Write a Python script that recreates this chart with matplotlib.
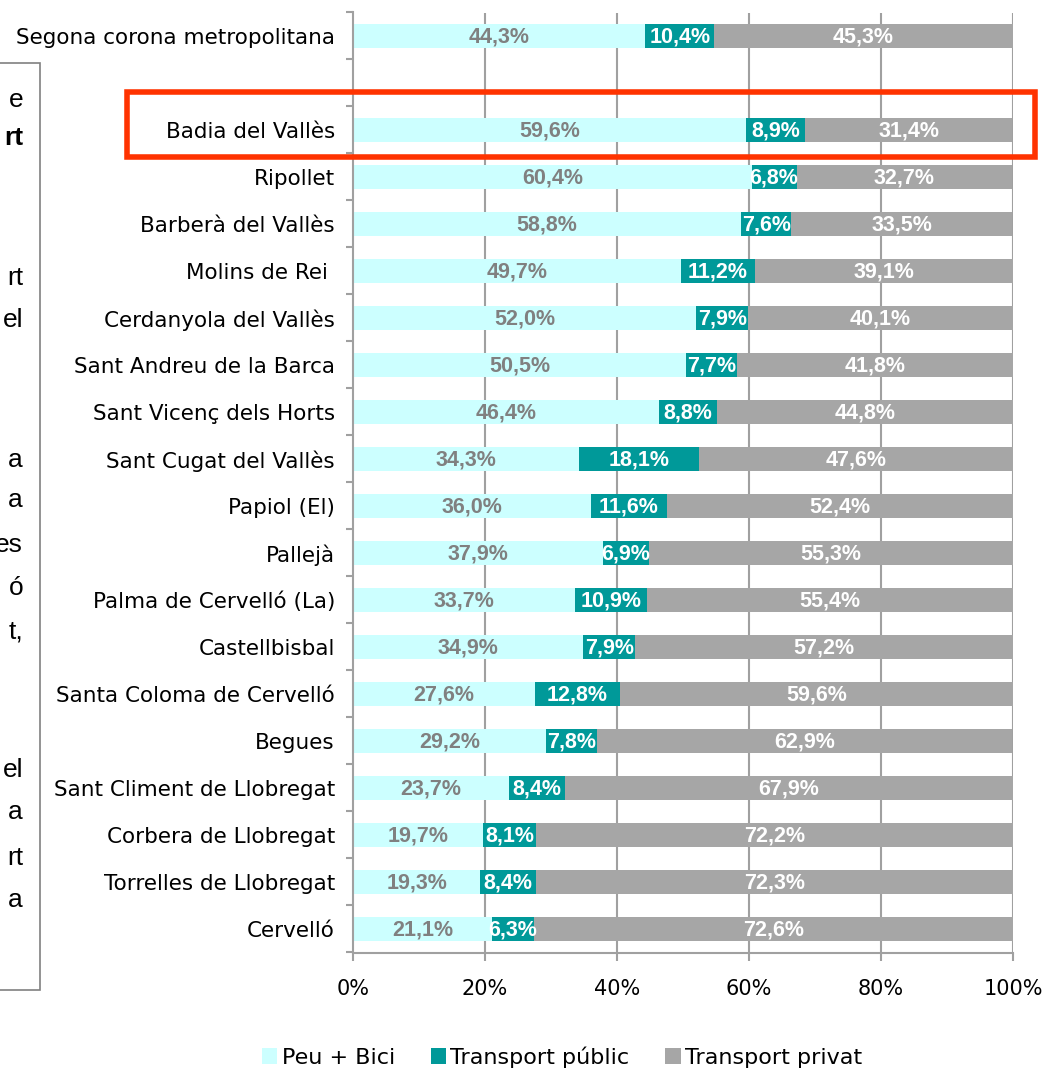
import matplotlib
matplotlib.use("Agg")
import matplotlib.pyplot as plt
from matplotlib.patches import Rectangle, Patch
import numpy as np

categories = ["Segona corona metropolitana", "", "Badia del Vallès", "Ripollet",
              "Barberà del Vallès", "Molins de Rei ", "Cerdanyola del Vallès",
              "Sant Andreu de la Barca", "Sant Vicenç dels Horts", "Sant Cugat del Vallès",
              "Papiol (El)", "Pallejà", "Palma de Cervelló (La)", "Castellbisbal",
              "Santa Coloma de Cervelló", "Begues", "Sant Climent de Llobregat",
              "Corbera de Llobregat", "Torrelles de Llobregat", "Cervelló"]
peu_bici = [44.3, None, 59.6, 60.4, 58.8, 49.7, 52.0, 50.5, 46.4, 34.3, 36.0, 37.9,
            33.7, 34.9, 27.6, 29.2, 23.7, 19.7, 19.3, 21.1]
transport_public = [10.4, None, 8.9, 6.8, 7.6, 11.2, 7.9, 7.7, 8.8, 18.1, 11.6, 6.9,
                    10.9, 7.9, 12.8, 7.8, 8.4, 8.1, 8.4, 6.3]
transport_privat = [45.3, None, 31.4, 32.7, 33.5, 39.1, 40.1, 41.8, 44.8, 47.6, 52.4,
                    55.3, 55.4, 57.2, 59.6, 62.9, 67.9, 72.2, 72.3, 72.6]
series_names = ["Peu + Bici", "Transport públic", "Transport privat"]
xtick_labels = ["0%", "20%", "40%", "60%", "80%", "100%"]
side_fragments = [("e", 100, False), ("rt", 138, True), ("rt", 278, False), ("el", 320, False),
                  ("a", 460, False), ("a", 500, False), ("es", 545, False), ("ó", 588, False),
                  ("t,", 632, False), ("el", 770, False), ("a", 812, False), ("rt", 858, False),
                  ("a", 900, False)]

colors = ["#CCFFFF", "#009999", "#A6A6A6"]
label_colors = ["#808080", "white", "white"]

W, H = 1048, 1069
fig = plt.figure(figsize=(W / 100, H / 100), dpi=100)
ax = fig.add_axes([353 / W, 1 - 952.5 / H, 660 / W, 940 / H])

n = len(categories)
y = np.arange(n)
grid_c = "#A0A0A0"
ax.set_axisbelow(True)
for xv in [20, 40, 60, 80, 100]:
    ax.axvline(xv, color=grid_c, lw=1.5, zorder=0)

label_font = dict(family=["Liberation Sans", "DejaVu Sans"], fontweight="bold", fontsize=15.5)
for i in range(n):
    if peu_bici[i] is None:
        continue
    vals = [peu_bici[i], transport_public[i], transport_privat[i]]
    left = 0
    for k, v in enumerate(vals):
        ax.barh(y[i], v, left=left, height=0.53, color=colors[k], edgecolor="none", zorder=2)
        ax.text(left + v / 2, y[i] + 0.03, f"{v:.1f}%".replace(".", ","), ha="center", va="center",
                color=label_colors[k], zorder=3, **label_font)
        left += v

ax.set_xlim(0, 100)
ax.set_ylim(n - 0.5, -0.5)
ax.set_xticks([0, 20, 40, 60, 80, 100])
ax.set_xticklabels(xtick_labels, fontsize=15, family="DejaVu Sans")
ax.set_yticks(y)
ax.set_yticklabels(categories, fontsize=15.5, family="DejaVu Sans")
ax.set_yticks(np.arange(-0.5, n, 1), minor=True)
ax.tick_params(axis="y", which="major", length=0, pad=13)
ax.tick_params(axis="y", which="minor", length=5, color=grid_c, width=1.5, direction="out")
ax.tick_params(axis="x", which="major", length=6, color=grid_c, width=1.5, pad=13)
for s in ["top", "right"]:
    ax.spines[s].set_visible(False)
for s in ["left", "bottom"]:
    ax.spines[s].set_color(grid_c)
    ax.spines[s].set_linewidth(1.5)

# red highlight rectangle
fig.patches.append(Rectangle((127 / W, 1 - 157 / H), (1035 - 127) / W, 65 / H,
                             transform=fig.transFigure, fill=False, edgecolor="#FF3300",
                             lw=4, zorder=10))
# left text box (cropped at the left edge)
fig.patches.append(Rectangle((-100 / W, 1 - 990 / H), 140 / W, 927 / H,
                             transform=fig.transFigure, fill=False, edgecolor="#808080",
                             lw=1.2))
for txt, yy, bold in side_fragments:
    fig.text(23 / W, 1 - yy / H, txt, ha="right", va="center", fontsize=19,
             family="Liberation Sans", fontweight="bold" if bold else "normal", color="black")

# legend
handles = [Patch(facecolor=c, edgecolor="none") for c in colors]
fig.legend(handles, series_names, loc="center", bbox_to_anchor=(562 / W, 1 - 1057 / H),
           ncol=3, frameon=False, handlelength=0.7, handleheight=0.7,
           handletextpad=0.2, columnspacing=1.6, prop={"family": "DejaVu Sans", "size": 16})

fig.savefig("out.png", dpi=100)
